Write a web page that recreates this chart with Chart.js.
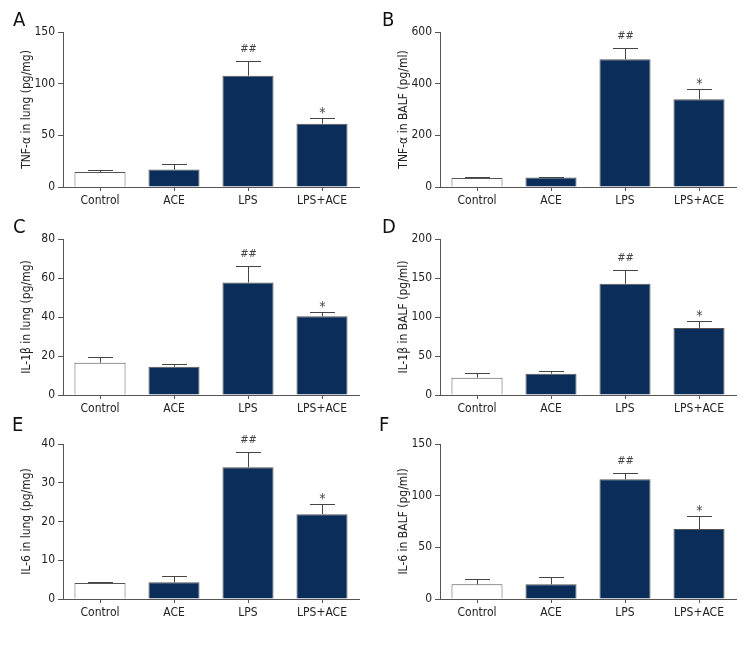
<!DOCTYPE html>
<html lang="en">
<head>
  <meta charset="UTF-8" />
  <title>Cytokine levels</title>
  <script src="https://cdn.jsdelivr.net/npm/chart.js"></script>
  <style>
    body { margin: 0; background: #fff; }
    .wrap { position: relative; width: 756px; height: 648px; }
    .panel { position: absolute; }
    .letter { position: absolute; font-family: "DejaVu Sans Condensed", sans-serif; font-size: 20px; color: #111; }
  </style>
</head>
<body>
  <div class="wrap" id="wrap"></div>

  <script>
    // groups on the x axis
    const categories = ['Control', 'ACE', 'LPS', 'LPS+ACE'];
    const marks = ['', '', '##', '*'];

    // A: TNF-a in lung
    const tnfLung = [14.5, 17, 107.7, 61.3];
    const tnfLungSd = [1.5, 5, 14.5, 5.2];
    // B: TNF-a in BALF
    const tnfBalf = [35, 37, 495, 340];
    const tnfBalfSd = [3, 3, 45, 39];
    // C: IL-1b in lung
    const il1bLung = [16.6, 14.5, 57.7, 40.4];
    const il1bLungSd = [3.1, 1.3, 8.2, 2.4];
    // D: IL-1b in BALF
    const il1bBalf = [22.2, 27.4, 142.6, 86];
    const il1bBalfSd = [6.1, 3, 17.6, 9];
    // E: IL-6 in lung
    const il6Lung = [4.1, 4.3, 34, 21.9];
    const il6LungSd = [0.4, 1.6, 4, 2.6];
    // F: IL-6 in BALF
    const il6Balf = [14.2, 14.2, 115.8, 67.7];
    const il6BalfSd = [5.2, 6.8, 6.5, 12.9];

    const FONT = '"DejaVu Sans Condensed", sans-serif';
    const NAVY = '#0b2d5a';
    const GREY = '#555';

    // error bars (upper only) + significance marks
    const errorBars = {
      id: 'errorBars',
      afterDatasetsDraw(chart) {
        const ctx = chart.ctx;
        const meta = chart.getDatasetMeta(0);
        const ds = chart.data.datasets[0];
        const y = chart.scales.y;
        ctx.save();
        meta.data.forEach((bar, i) => {
          const top = y.getPixelForValue(ds.data[i] + ds.sd[i]);
          const x = Math.round(bar.x) + 0.5;
          ctx.strokeStyle = '#444';
          ctx.lineWidth = 1;
          ctx.beginPath();
          ctx.moveTo(x, bar.y);
          ctx.lineTo(x, Math.round(top) + 0.5);
          ctx.moveTo(x - 12.5, Math.round(top) + 0.5);
          ctx.lineTo(x + 12.5, Math.round(top) + 0.5);
          ctx.stroke();
          if (ds.marks[i]) {
            ctx.fillStyle = '#444';
            ctx.textAlign = 'center';
            ctx.textBaseline = 'alphabetic';
            if (ds.marks[i] === '*') {
              ctx.font = '14px ' + FONT;
              ctx.fillText(ds.marks[i], x, top - 1);
            } else {
              ctx.font = '11px ' + FONT;
              ctx.fillText(ds.marks[i], x, top - 9);
            }
          }
        });
        ctx.restore();
      }
    };

    const panels = [
      { letter: 'A', left: 0,   top: 0,   h: 215, padTop: 32, values: tnfLung,  sd: tnfLungSd,  max: 150, step: 50,  title: 'TNF-α in lung (pg/mg)' },
      { letter: 'B', left: 377, top: 0,   h: 215, padTop: 32, values: tnfBalf,  sd: tnfBalfSd,  max: 600, step: 200, title: 'TNF-α in BALF (pg/ml)' },
      { letter: 'C', left: 0,   top: 210, h: 213, padTop: 29, values: il1bLung, sd: il1bLungSd, max: 80,  step: 20,  title: 'IL-1β in lung (pg/mg)' },
      { letter: 'D', left: 377, top: 210, h: 213, padTop: 29, values: il1bBalf, sd: il1bBalfSd, max: 200, step: 50,  title: 'IL-1β in BALF (pg/ml)' },
      { letter: 'E', left: 0,   top: 423, h: 204, padTop: 21, values: il6Lung,  sd: il6LungSd,  max: 40,  step: 10,  title: 'IL-6 in lung (pg/mg)' },
      { letter: 'F', left: 377, top: 423, h: 204, padTop: 21, values: il6Balf,  sd: il6BalfSd,  max: 150, step: 50,  title: 'IL-6 in BALF (pg/ml)' }
    ];

    const letterPos = { A: [13, 7], B: [382, 7], C: [13, 214], D: [382, 214], E: [12, 412], F: [379, 412] };

    const tickFont = { family: FONT, size: 12 };

    const wrap = document.getElementById('wrap');
    panels.forEach(p => {
      const box = document.createElement('div');
      box.className = 'panel';
      box.style.left = p.left + 'px';
      box.style.top = p.top + 'px';
      box.style.width = '379px';
      box.style.height = p.h + 'px';
      const canvas = document.createElement('canvas');
      box.appendChild(canvas);
      wrap.appendChild(box);

      const lab = document.createElement('div');
      lab.className = 'letter';
      lab.textContent = p.letter;
      lab.style.left = letterPos[p.letter][0] + 'px';
      lab.style.top = letterPos[p.letter][1] + 'px';
      wrap.appendChild(lab);

      new Chart(canvas, {
        type: 'bar',
        data: {
          labels: categories,
          datasets: [{
            data: p.values,
            sd: p.sd,
            marks: marks,
            backgroundColor: ['#ffffff', NAVY, NAVY, NAVY],
            borderColor: GREY,
            borderWidth: 1,
            barPercentage: 0.69,
            categoryPercentage: 1
          }]
        },
        options: {
          responsive: true,
          maintainAspectRatio: false,
          animation: false,
          layout: { padding: { top: p.padTop, right: 20, left: 0, bottom: 0 } },
          plugins: { legend: { display: false }, tooltip: { enabled: false } },
          scales: {
            x: {
              afterFit: s => { s.height = 28; },
              grid: { offset: false, drawOnChartArea: false, drawTicks: true, tickLength: 4, color: GREY },
              border: { color: GREY },
              ticks: { color: '#222', font: tickFont, padding: 3 }
            },
            y: {
              min: 0,
              max: p.max,
              afterFit: s => { s.width = 63; },
              grid: { drawOnChartArea: false, drawTicks: true, tickLength: 5, color: GREY },
              border: { color: GREY },
              ticks: { stepSize: p.step, color: '#222', font: tickFont, padding: 3 },
              title: { display: true, text: p.title, color: '#222', font: tickFont, padding: { top: 20, bottom: 0 } }
            }
          }
        },
        plugins: [errorBars]
      });
    });
  </script>
</body>
</html>
